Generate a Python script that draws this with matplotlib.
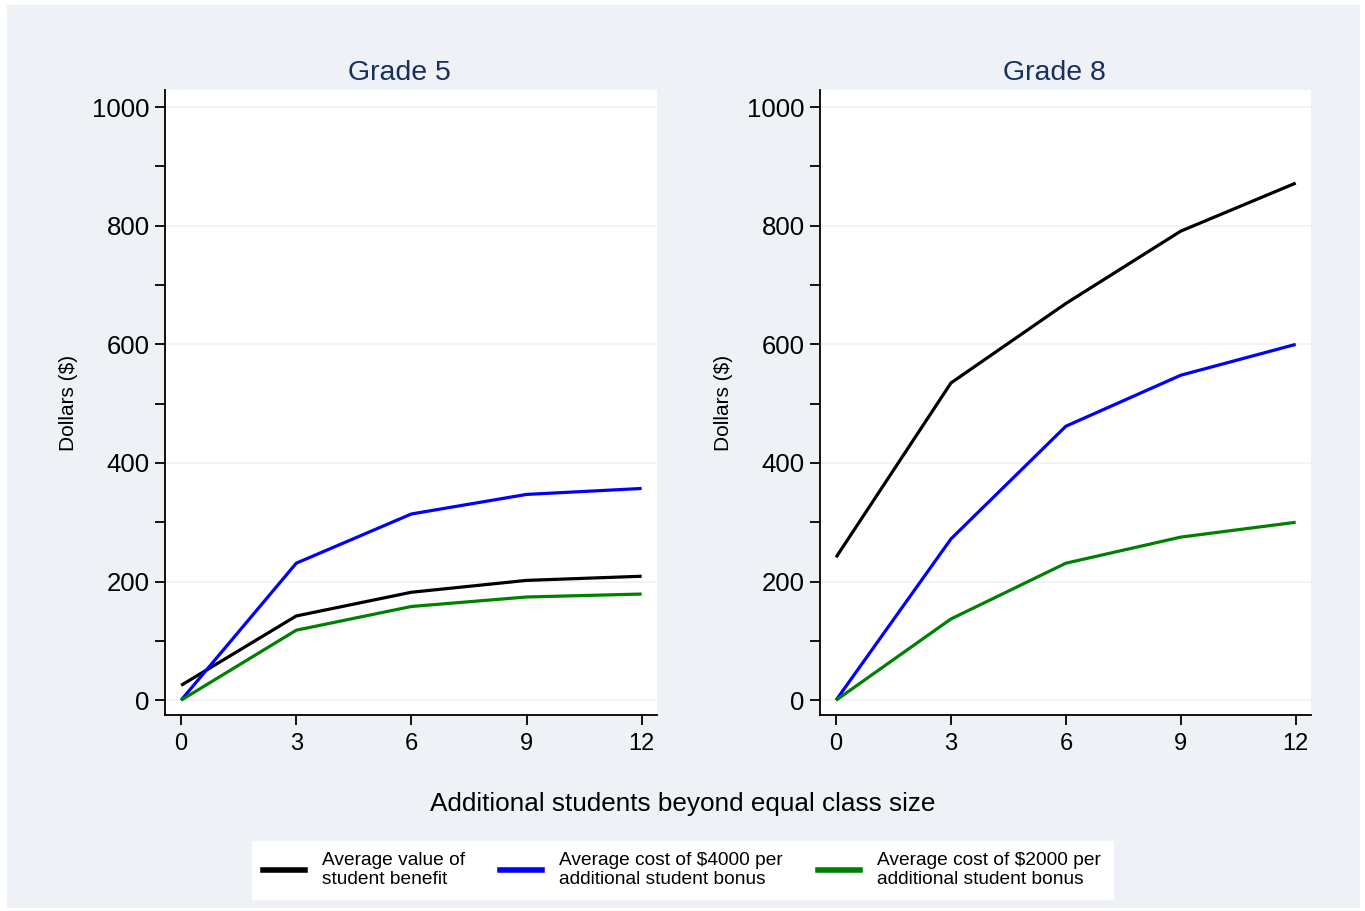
import numpy as np
import matplotlib.pyplot as plt
from matplotlib.patches import Rectangle
from matplotlib.lines import Line2D

plt.rcParams['font.family'] = ['Liberation Sans', 'DejaVu Sans']

extra_students = [0, 3, 6, 9, 12]

# grade 5 series (dollars)
g5_benefit = [25, 142, 182, 202, 209]
g5_cost_4000 = [0, 231, 314, 347, 357]
g5_cost_2000 = [0, 118, 158, 174, 179]

# grade 8 series (dollars)
g8_benefit = [241, 535, 669, 791, 872]
g8_cost_4000 = [0, 272, 462, 548, 600]
g8_cost_2000 = [0, 137, 231, 275, 300]

panel_titles = ["Grade 5", "Grade 8"]
series_labels = ["Average value of\nstudent benefit",
                 "Average cost of $4000 per\nadditional student bonus",
                 "Average cost of $2000 per\nadditional student bonus"]
series_colors = ["black", "#0000ff", "#008000"]

bg = "#eef1f6"
W, H = 1365, 911
fig = plt.figure(figsize=(W / 100, H / 100), dpi=100)
fig.patch.set_facecolor("white")
fig.patches.append(Rectangle((7 / W, 1 - 908 / H), (1360 - 7) / W, (908 - 5) / H,
                             transform=fig.transFigure, facecolor=bg,
                             edgecolor="none", zorder=-10))


def px_axes(x0, y0, x1, y1):
    return fig.add_axes([x0 / W, 1 - y1 / H, (x1 - x0) / W, (y1 - y0) / H])


panels = [
    (px_axes(165, 90, 657, 715), [g5_benefit, g5_cost_4000, g5_cost_2000], 399),
    (px_axes(820, 90, 1311, 715), [g8_benefit, g8_cost_4000, g8_cost_2000], 1054),
]

for (ax, series, title_x), title in zip(panels, panel_titles):
    ax.set_facecolor("white")
    for vals, col in zip(series, series_colors):
        ax.plot(extra_students, vals, color=col, lw=2.3, solid_capstyle="butt")
    ax.set_xlim(-0.42, 12.4)
    ax.set_ylim(-25, 1029)
    ax.set_xticks(extra_students)
    ax.set_yticks(np.arange(0, 1001, 200))
    ax.set_yticks(np.arange(100, 1000, 200), minor=True)
    ax.grid(axis="y", which="major", color=bg, lw=1.2)
    ax.set_axisbelow(True)
    for s in ["top", "right"]:
        ax.spines[s].set_visible(False)
    for s in ["left", "bottom"]:
        ax.spines[s].set_linewidth(1.3)
    ax.tick_params(axis="both", which="both", length=7, width=1.3,
                   labelsize=18.5, pad=4)
    ax.tick_params(axis="x", labelsize=17, pad=6)
    ax.set_ylabel("Dollars ($)", fontsize=15, labelpad=10)
    fig.text(title_x / W, 1 - 73 / H, title, ha="center", va="center",
             fontsize=20.5, color="#1a2f5a")

fig.text(683 / W, 1 - 804 / H, "Additional students beyond equal class size",
         ha="center", va="center", fontsize=18.8)

handles = [Line2D([], [], color=c, lw=4) for c in series_colors]
leg = fig.legend(handles, series_labels, loc="center",
                 bbox_to_anchor=(682 / W, 1 - 870 / H), ncol=3,
                 fontsize=13.8, frameon=True, fancybox=False,
                 edgecolor="white", facecolor="white", framealpha=1,
                 handlelength=2.2, columnspacing=1.8, borderpad=0.6,
                 handletextpad=0.9, labelspacing=0.2)
for t in leg.get_texts():
    t.set_linespacing(1.15)

fig.savefig("out.png", dpi=100, facecolor=fig.get_facecolor())
